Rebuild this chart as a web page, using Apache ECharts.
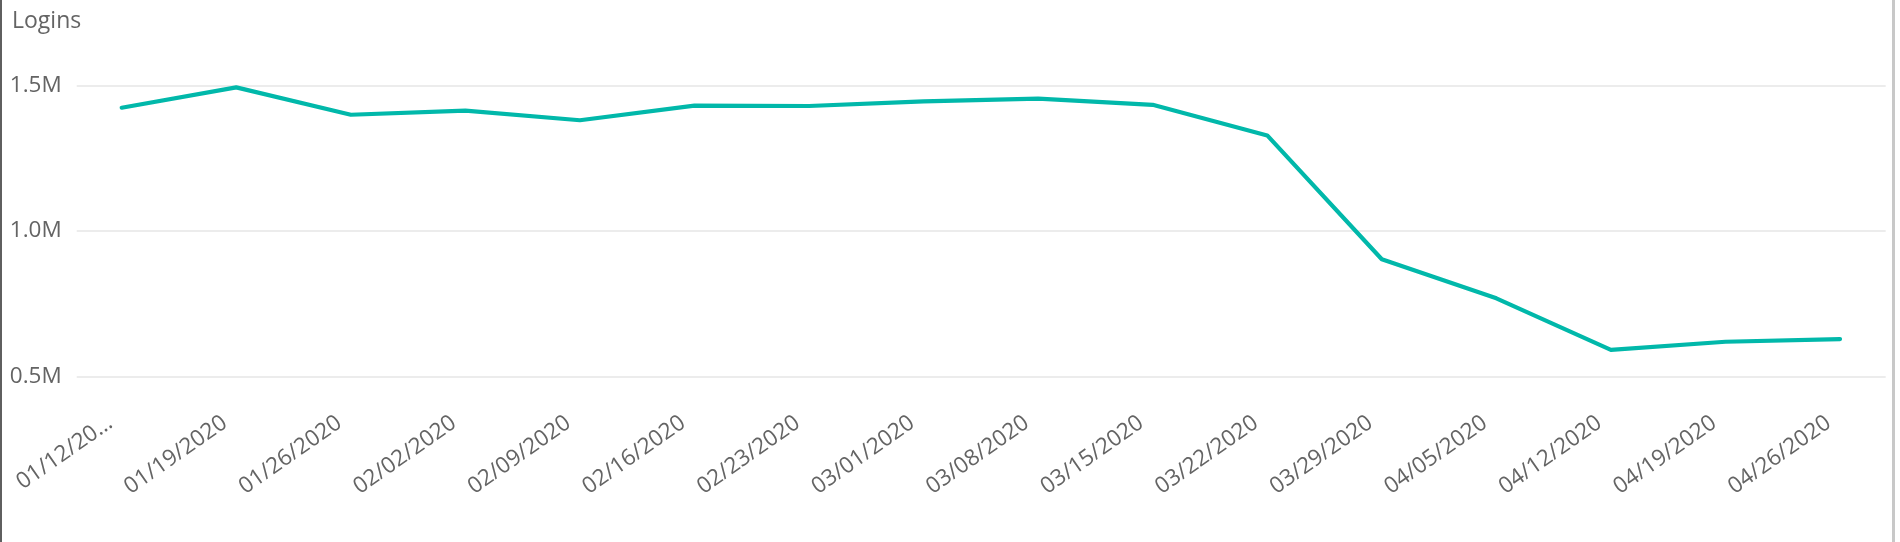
<!DOCTYPE html>
<html>
<head>
<meta charset="utf-8">
<script src="https://cdn.jsdelivr.net/npm/echarts@6/dist/echarts.min.js"></script>
<style>
  html, body { margin: 0; padding: 0; background: #ffffff; }
  #wrap { position: relative; width: 1900px; height: 542px; overflow: hidden; }
  #chart { position: absolute; left: 0; top: 0; width: 1900px; height: 542px; }
  #lb { position: absolute; left: 0; top: 0; width: 2px; height: 542px; background: #5f5f5f; }
  #rb { position: absolute; left: 1892px; top: 0; width: 3px; height: 542px; background: #c8c8c8; }
</style>
</head>
<body>
<div id="wrap">
  <div id="chart"></div>
  <div id="lb"></div>
  <div id="rb"></div>
</div>
<script>
const categories = ['01/12/2020','01/19/2020','01/26/2020','02/02/2020','02/09/2020','02/16/2020','02/23/2020','03/01/2020','03/08/2020','03/15/2020','03/22/2020','03/29/2020','04/05/2020','04/12/2020','04/19/2020','04/26/2020'];
const tickLabels = ['01/12/20…','01/19/2020','01/26/2020','02/02/2020','02/09/2020','02/16/2020','02/23/2020','03/01/2020','03/08/2020','03/15/2020','03/22/2020','03/29/2020','04/05/2020','04/12/2020','04/19/2020','04/26/2020'];
const logins = [1423000, 1493000, 1399000, 1413000, 1380000, 1430000, 1429000, 1445000, 1454000, 1433000, 1328000, 903000, 769000, 592000, 620000, 629000];
const yTicks = [500000, 1000000, 1500000];
const yTickLabels = ['0.5M', '1.0M', '1.5M'];
const axisTitle = 'Logins';

const chart = echarts.init(document.getElementById('chart'));
const font = "'Open Sans', 'Noto Sans', sans-serif";
const textColor = '#646464';
const idx = categories.map((c, i) => i);

chart.setOption({
  animation: false,
  backgroundColor: '#ffffff',
  title: {
    text: axisTitle,
    left: 7,
    top: 5,
    textStyle: { fontFamily: font, fontSize: 23, fontWeight: 'normal', color: textColor }
  },
  grid: { left: 76.7, right: 14.3, top: 85.3, bottom: 165.3, containLabel: false },
  xAxis: {
    type: 'value',
    min: -0.3927,
    max: 15.3988,
    axisLine: { show: false },
    axisTick: { show: false },
    splitLine: { show: false },
    axisLabel: {
      customValues: idx,
      formatter: (v) => tickLabels[Math.round(v)],
      rotate: 35,
      margin: 36,
      padding: [0, 14, 0, 0],
      fontFamily: font,
      fontSize: 22.5,
      color: textColor,
      hideOverlap: false
    }
  },
  yAxis: {
    type: 'value',
    min: yTicks[0],
    max: yTicks[yTicks.length - 1],
    interval: yTicks[1] - yTicks[0],
    axisLine: { show: false },
    axisTick: { show: false },
    splitLine: { show: true, lineStyle: { color: '#e6e6e6', width: 1.5 } },
    axisLabel: {
      formatter: (v) => yTickLabels[yTicks.indexOf(v)],
      margin: 15,
      fontFamily: font,
      fontSize: 22.5,
      color: textColor
    }
  },
  series: [{
    type: 'line',
    data: logins.map((v, i) => [idx[i], v]),
    showSymbol: false,
    symbol: 'none',
    lineStyle: { color: '#01B8AA', width: 4.2, cap: 'round', join: 'round' },
    itemStyle: { color: '#01B8AA' }
  }]
});
</script>
</body>
</html>
